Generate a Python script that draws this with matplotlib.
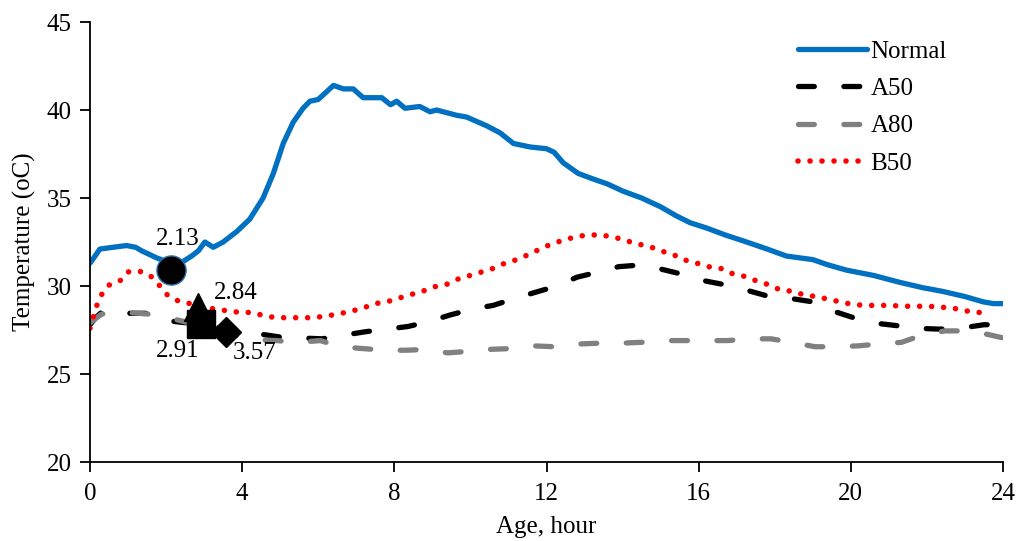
import matplotlib
matplotlib.use("Agg")
import matplotlib.pyplot as plt
import numpy as np

plt.rcParams["font.family"] = ["Liberation Serif", "DejaVu Serif"]

# temperature records (hour, degC)
normal_h = [0, 0.1, 0.26, 0.6, 0.96, 1.2, 1.36, 1.75, 2.0, 2.2, 2.45, 2.67, 2.85, 3.02, 3.24, 3.5,
            3.86, 4.2, 4.55, 4.82, 5.08, 5.34, 5.6, 5.78, 6.0, 6.2, 6.4, 6.66, 6.92, 7.18, 7.67, 7.9,
            8.06, 8.28, 8.67, 8.94, 9.11, 9.64, 9.9, 10.43, 10.78, 11.13, 11.57, 12.0, 12.2, 12.44,
            12.83, 13.2, 13.6, 14.0, 14.5, 15.0, 15.4, 15.77, 16.2, 16.7, 17.26, 17.8, 18.31, 19.0,
            19.4, 19.89, 20.6, 21.3, 21.9, 22.4, 23.0, 23.48, 23.75, 24.0]
normal_t = [31.3, 31.6, 32.1, 32.2, 32.3, 32.2, 32.0, 31.6, 31.4, 31.3, 31.4, 31.7, 32.0, 32.5, 32.2, 32.5,
            33.1, 33.8, 35.0, 36.4, 38.1, 39.3, 40.1, 40.5, 40.6, 41.0, 41.4, 41.2, 41.2, 40.7, 40.7, 40.3,
            40.5, 40.1, 40.2, 39.9, 40.0, 39.7, 39.6, 39.1, 38.7, 38.1, 37.9, 37.8, 37.6, 37.0,
            36.4, 36.1, 35.8, 35.4, 35.0, 34.5, 34.0, 33.6, 33.3, 32.9, 32.5, 32.1, 31.7, 31.5,
            31.2, 30.9, 30.6, 30.2, 29.9, 29.7, 29.4, 29.1, 29.0, 29.0]

a50_h = [0, 0.15, 0.3, 0.6, 1.05, 1.53, 2.15, 2.58, 3.0, 3.5, 4.0, 4.38, 5.0, 5.5, 6.1, 6.66, 7.23, 7.8,
         8.36, 8.94, 9.46, 10.07, 10.6, 11.17, 11.72, 12.27, 12.8, 13.37, 13.9, 14.5, 15.03, 15.6, 16.14,
         16.74, 17.28, 17.86, 18.4, 19.0, 19.5, 20.07, 20.6, 21.2, 21.7, 22.34, 22.87, 23.5, 24.0]
a50_t = [27.8, 28.2, 28.5, 28.55, 28.45, 28.45, 28.0, 27.9, 27.8, 27.6, 27.4, 27.3, 27.1, 27.05, 27.0, 27.2,
         27.4, 27.55, 27.7, 28.0, 28.35, 28.7, 28.9, 29.3, 29.65, 30.0, 30.5, 30.8, 31.1, 31.2, 30.95, 30.65,
         30.3, 30.05, 29.75, 29.4, 29.3, 29.1, 28.6, 28.2, 27.9, 27.75, 27.6, 27.55, 27.6, 27.8, 27.8]

a80_h = [0, 0.15, 0.3, 0.6, 1.0, 1.55, 2.15, 2.63, 3.2, 3.8, 4.34, 4.9, 5.47, 6.05, 6.6, 7.14, 7.76, 8.28,
         8.9, 9.4, 10.0, 10.5, 11.13, 11.66, 12.2, 12.8, 13.36, 13.93, 14.5, 15.06, 15.64, 16.2, 16.77,
         17.3, 17.9, 18.44, 19.06, 19.58, 20.2, 20.7, 21.33, 21.86, 22.47, 23.0, 23.6, 24.0]
a80_t = [27.9, 28.15, 28.4, 28.5, 28.5, 28.4, 28.15, 27.9, 27.6, 27.2, 26.95, 26.9, 26.8, 26.9, 26.55, 26.45,
         26.35, 26.35, 26.4, 26.2, 26.3, 26.4, 26.45, 26.6, 26.55, 26.7, 26.75, 26.75, 26.8, 26.9, 26.9,
         26.9, 26.9, 27.0, 27.0, 26.8, 26.55, 26.55, 26.6, 26.7, 26.8, 27.2, 27.45, 27.45, 27.25, 27.05]

b50_h = [0, 0.16, 0.3, 0.5, 0.79, 1.0, 1.29, 1.58, 1.84, 2.03, 2.32, 2.63, 3.24, 3.59, 3.94, 4.25, 4.6,
         4.9, 5.26, 5.56, 5.87, 6.22, 6.5, 6.83, 7.18, 7.49, 7.8, 8.1, 8.41, 8.74, 9.04, 9.38, 9.68, 9.99,
         10.3, 10.6, 10.91, 11.22, 11.54, 11.83, 12.14, 12.44, 12.77, 13.08, 13.4, 13.74, 14.06, 14.37,
         14.7, 15.0, 15.32, 15.6, 15.95, 16.25, 16.58, 16.89, 17.2, 17.51, 17.8, 18.12, 18.44, 18.77,
         19.08, 19.41, 19.72, 20.05, 20.37, 20.72, 21.03, 21.36, 21.68, 22.04, 22.34, 22.67, 22.99,
         23.31, 23.66]
b50_t = [27.6, 28.8, 29.5, 30.05, 30.3, 30.8, 30.85, 30.6, 30.0, 29.5, 29.15, 29.0, 28.7, 28.6, 28.5, 28.5,
         28.3, 28.2, 28.2, 28.2, 28.2, 28.3, 28.4, 28.55, 28.75, 29.0, 29.1, 29.3, 29.5, 29.7, 29.95, 30.1,
         30.4, 30.6, 30.8, 31.0, 31.3, 31.5, 31.8, 32.1, 32.4, 32.6, 32.8, 32.9, 32.9, 32.8, 32.6, 32.4,
         32.25, 32.0, 31.8, 31.5, 31.3, 31.1, 31.0, 30.7, 30.55, 30.3, 30.1, 29.8, 29.7, 29.5, 29.4,
         29.25, 29.1, 28.95, 28.9, 28.9, 28.9, 28.85, 28.85, 28.85, 28.8, 28.75, 28.6, 28.5, 28.5]

# setting times (hour, degC at mark)
set_h = [2.13, 2.84, 2.91, 3.57]
set_t = [30.9, 28.8, 27.86, 27.4]
set_labels = ["2.13", "2.84", "2.91", "3.57"]

fig = plt.figure(figsize=(10.18, 5.41), dpi=100)
ax = fig.add_axes([0.0884, 0.146, 0.8969, 0.8133])

ax.plot(normal_h, normal_t, color="#0070C0", lw=3.8, solid_capstyle="round", label="Normal")
ax.plot(a50_h, a50_t, color="black", lw=3.8, dashes=(3.0, 5.6), dash_capstyle="round", label="A50")
ax.plot(a80_h, a80_t, color="#808080", lw=3.8, dashes=(3.0, 5.6), dash_capstyle="round", label="A80")
ax.plot(b50_h, b50_t, color="#FF0000", lw=4.0, dashes=(0.01, 2.15), dash_capstyle="round", label="B50")

ax.plot(set_h[0], set_t[0], "o", ms=21, mfc="black", mec="#2E75B6", mew=1.0, zorder=5)
ax.plot(set_h[1], set_t[1], "^", ms=20, color="black", zorder=5)
ax.plot(set_h[2], set_t[2], "s", ms=20, color="black", zorder=5)
ax.plot(set_h[3], set_t[3], "D", ms=15, color="black", zorder=5)

offsets = [(4.5, 22.5), (27, 10), (-16.5, -19.5), (21, -15.5)]
for h, t, s, off in zip(set_h, set_t, set_labels, offsets):
    ax.annotate(s, (h, t), xytext=off, textcoords="offset points",
                ha="center", va="center", fontsize=18)

ax.set_xlim(0, 24)
ax.set_ylim(20, 45)
ax.set_xticks(np.arange(0, 25, 4))
ax.set_yticks(np.arange(20, 46, 5))
ax.spines["top"].set_visible(False)
ax.spines["right"].set_visible(False)
for s in ["left", "bottom"]:
    ax.spines[s].set_linewidth(1.3)
ax.tick_params(direction="out", length=7, width=1.3, labelsize=18)
ax.tick_params(axis="x", pad=8)
ax.tick_params(axis="y", pad=6)
ax.set_xlabel("Age, hour", fontsize=18, labelpad=8)
ax.set_ylabel("Temperature (oC)", fontsize=18, labelpad=8)

ax.legend(loc="upper left", bbox_to_anchor=(798 / 1018, 1 - 40 / 541), bbox_transform=fig.transFigure,
          frameon=False, fontsize=18, handlelength=2.75, handletextpad=0.15, labelspacing=0.6,
          borderpad=0, borderaxespad=0)

fig.savefig("out.png", dpi=100)
